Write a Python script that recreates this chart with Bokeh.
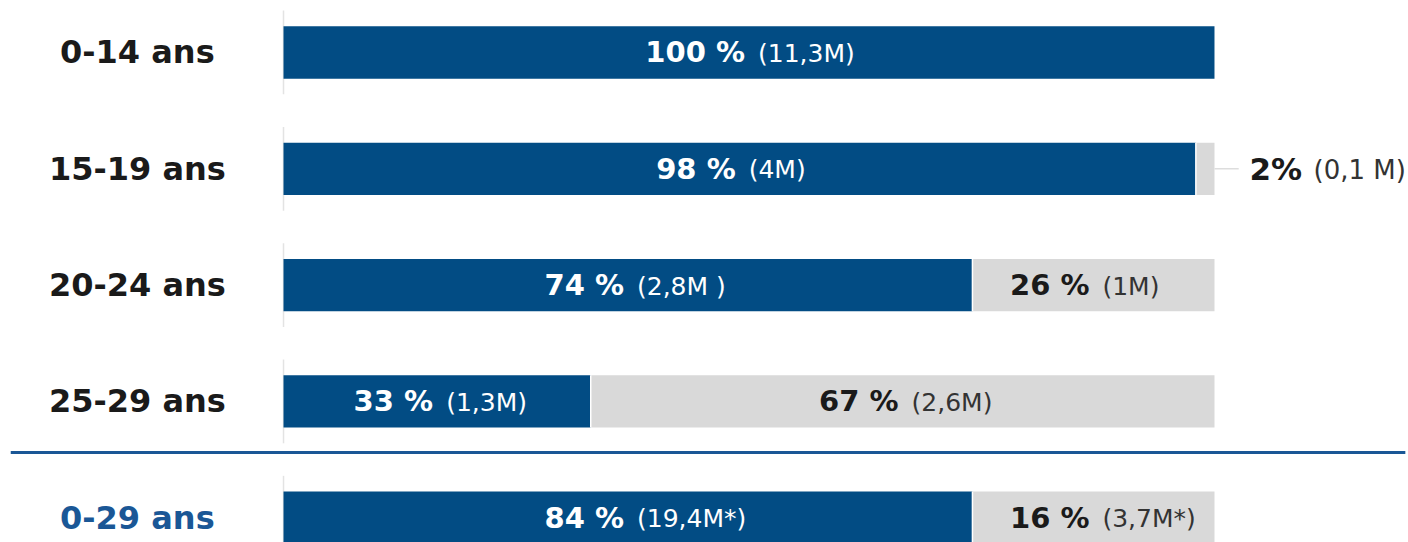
from bokeh.plotting import figure
from bokeh.models import Range1d
from bokeh.core.properties import value
from bokeh.embed import file_html
from bokeh.resources import INLINE

# ---- data ----
categories = ["0-14 ans", "15-19 ans", "20-24 ans", "25-29 ans", "0-29 ans"]
# printed shares and counts
pct_blue = [100, 98, 74, 33, 84]
pct_gray = [0, 2, 26, 67, 16]
count_blue = ["11,3M", "4M", "2,8M )", "1,3M", "19,4M*"]
count_gray = ["", "0,1 M", "1M", "2,6M", "3,7M*"]
# segment lengths as drawn in the picture (% of full bar)
bar_blue_len = [100, 98, 74, 33, 74]
bar_gray_len = [0, 2, 26, 67, 26]

# ---- style ----
BLUE = "#024c84"
GRAY = "#d9d9d9"
LINE_BLUE = "#1a5796"
DARK = "#1a1a1a"
FONT = value("DejaVu Sans")
W, H = 1408, 542

p = figure(width=W, height=H, output_backend="svg", toolbar_location=None,
           x_range=Range1d(-30.40, 120.84), y_range=Range1d(4.213, -0.447),
           min_border=0, x_axis_location=None, y_axis_location=None,
           outline_line_color=None, background_fill_color="white")
p.xgrid.visible = False
p.ygrid.visible = False

n = len(categories)
ys = list(range(n))
gray_left = bar_blue_len
gray_right = [a + b for a, b in zip(bar_blue_len, bar_gray_len)]

# faint vertical axis segments per row
p.segment(x0=[0] * n, x1=[0] * n, y0=[y - 0.36 for y in ys], y1=[y + 0.36 for y in ys],
          line_color="#e3e3e3", line_width=1.5)

# bars
p.hbar(y=ys, left=[0] * n, right=bar_blue_len, height=0.45, fill_color=BLUE, line_color=None)
gi = [i for i in range(n) if bar_gray_len[i] > 0]
p.hbar(y=[ys[i] for i in gi], left=[gray_left[i] for i in gi], right=[gray_right[i] for i in gi],
       height=0.45, fill_color=GRAY, line_color=None)
p.segment(x0=[gray_left[i] for i in gi], x1=[gray_left[i] for i in gi],
          y0=[ys[i] - 0.225 for i in gi], y1=[ys[i] + 0.225 for i in gi],
          line_color="white", line_width=1.5)

# divider line before total row
p.segment(x0=[-29.3], x1=[120.5], y0=[3.44], y1=[3.44], line_color=LINE_BLUE, line_width=3)

# category labels
cat_colors = [DARK] * (n - 1) + [LINE_BLUE]
p.text(x=[-15.7] * n, y=ys, text=categories, text_align="center", text_baseline="middle",
       text_font=FONT, text_font_style="bold", text_font_size="32px", text_color=cat_colors)

# blue segment labels
bx = [v / 2 for v in bar_blue_len]
p.text(x=bx, y=ys, text=[f"{v} %" for v in pct_blue], text_align="right", text_baseline="middle",
       x_offset=-4, text_font=FONT, text_font_style="bold", text_font_size="29px", text_color="white")
p.text(x=bx, y=ys, text=[f"({c})" if not c.endswith(")") else f"({c}" for c in count_blue],
       text_align="left", text_baseline="middle", x_offset=9, y_offset=1,
       text_font=FONT, text_font_size="25px", text_color="white")

# gray segment labels (inside when wide enough)
inside = [i for i in gi if bar_gray_len[i] >= 10]
outside = [i for i in gi if bar_gray_len[i] < 10]
gx = [(gray_left[i] + gray_right[i]) / 2 for i in inside]
p.text(x=gx, y=[ys[i] for i in inside], text=[f"{pct_gray[i]} %" for i in inside],
       text_align="right", text_baseline="middle", x_offset=-4,
       text_font=FONT, text_font_style="bold", text_font_size="29px", text_color=DARK)
p.text(x=gx, y=[ys[i] for i in inside], text=[f"({count_gray[i]})" for i in inside],
       text_align="left", text_baseline="middle", x_offset=9, y_offset=1,
       text_font=FONT, text_font_size="25px", text_color="#333333")

# outside label for small gray share
ox = [gray_right[i] for i in outside]
oy = [ys[i] for i in outside]
p.segment(x0=ox, x1=[x + 2.6 for x in ox], y0=oy, y1=oy, line_color="#dddddd", line_width=1.5)
p.text(x=ox, y=oy, text=[f"{pct_gray[i]}%" for i in outside], text_align="left", text_baseline="middle",
       x_offset=35, text_font=FONT, text_font_style="bold", text_font_size="31px", text_color=DARK)
p.text(x=ox, y=oy, text=[f"({count_gray[i]})" for i in outside], text_align="left", text_baseline="middle",
       x_offset=99, y_offset=1, text_font=FONT, text_font_size="26px", text_color="#333333")

open("out.html", "w").write(file_html(p, INLINE))
